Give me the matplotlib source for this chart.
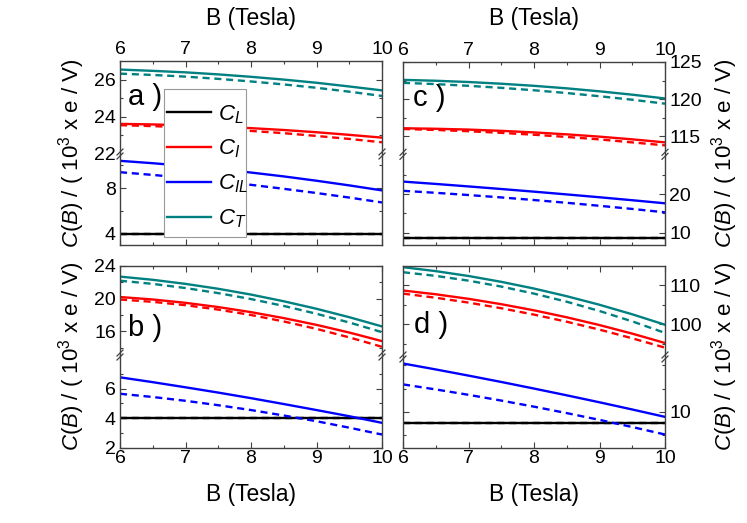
import matplotlib
matplotlib.use("Agg")
import matplotlib.pyplot as plt
from matplotlib.ticker import FixedLocator
from matplotlib.lines import Line2D
from matplotlib.patches import Rectangle

plt.rcParams['font.family'] = ['Liberation Sans', 'DejaVu Sans']
plt.rcParams['mathtext.fontset'] = 'custom'
plt.rcParams['mathtext.rm'] = 'Liberation Sans'
plt.rcParams['mathtext.it'] = 'Liberation Sans:italic'

W, H = 747, 523

B = [6.0, 6.5, 7.0, 7.5, 8.0, 8.5, 9.0, 9.5, 10.0]

# panel a
a_CL = 4.0
a_CI = [23.62, 23.59, 23.54, 23.47, 23.39, 23.29, 23.17, 23.03, 22.88]
a_CI_d = [23.55, 23.50, 23.43, 23.35, 23.24, 23.12, 22.97, 22.81, 22.63]
a_CIL = [10.40, 10.19, 9.95, 9.68, 9.37, 9.03, 8.65, 8.24, 7.80]
a_CIL_d = [9.40, 9.16, 8.90, 8.61, 8.29, 7.94, 7.57, 7.17, 6.74]
a_CT = [26.54, 26.47, 26.39, 26.28, 26.15, 26.00, 25.83, 25.63, 25.42]
a_CT_d = [26.32, 26.25, 26.16, 26.04, 25.90, 25.74, 25.56, 25.35, 25.12]

# panel b
b_CL = 4.0
b_CI = [20.20, 19.90, 19.49, 18.97, 18.35, 17.62, 16.79, 15.85, 14.80]
b_CI_d = [19.90, 19.61, 19.20, 18.66, 18.00, 17.21, 16.30, 15.26, 14.10]
b_CIL = [6.78, 6.45, 6.10, 5.74, 5.36, 4.96, 4.55, 4.13, 3.68]
b_CIL_d = [5.66, 5.44, 5.18, 4.88, 4.55, 4.18, 3.79, 3.35, 2.88]
b_CT = [22.70, 22.31, 21.81, 21.21, 20.50, 19.68, 18.76, 17.73, 16.60]
b_CT_d = [22.20, 21.81, 21.30, 20.68, 19.95, 19.11, 18.15, 17.08, 15.90]

# panel c
c_CL = 8.5
c_CI = [116.10, 116.03, 115.92, 115.75, 115.54, 115.28, 114.97, 114.61, 114.20]
c_CI_d = [116.00, 115.87, 115.70, 115.48, 115.23, 114.93, 114.60, 114.20, 113.80]
c_CIL = [23.30, 22.69, 22.04, 21.37, 20.68, 19.96, 19.22, 18.45, 17.65]
c_CIL_d = [20.90, 20.38, 19.80, 19.18, 18.50, 17.78, 17.00, 16.18, 15.30]
c_CT = [122.60, 122.48, 122.31, 122.08, 121.80, 121.46, 121.06, 120.61, 120.10]
c_CT_d = [122.20, 122.03, 121.80, 121.53, 121.20, 120.83, 120.40, 119.93, 119.40]

# panel d
d_CL = 7.6
d_CI = [108.70, 107.73, 106.56, 105.18, 103.60, 101.81, 99.81, 97.61, 95.20]
d_CI_d = [107.90, 106.84, 105.59, 104.14, 102.50, 100.67, 98.64, 96.41, 94.00]
d_CIL = [20.40, 19.12, 17.79, 16.42, 15.00, 13.54, 12.04, 10.49, 8.90]
d_CIL_d = [15.90, 14.81, 13.65, 12.41, 11.10, 9.71, 8.25, 6.71, 5.10]
d_CT = [114.70, 113.68, 112.43, 110.93, 109.20, 107.23, 105.03, 102.58, 99.90]
d_CT_d = [113.40, 112.46, 111.23, 109.71, 107.90, 105.81, 103.43, 100.76, 97.80]

TEAL = '#008080'
SPINE = '#404040'
TICK_FS = 14
XLAB_FS = 16.5
YLAB_FS = 16

fig = plt.figure(figsize=(W / 100, H / 100), dpi=100)


def fx(px):
    return px / W


def fy(px):
    return 1 - px / H


def panel(left, right, top, brk, bot, hi_lim, lo_lim, hi_ticks, lo_ticks,
          side, xside, tag, tag_xy, curves):
    up = fig.add_axes([fx(left), fy(brk), fx(right - left), fy(top) - fy(brk)])
    lo = fig.add_axes([fx(left), fy(bot), fx(right - left), fy(brk) - fy(bot)])
    for ax in (up, lo):
        for vals, color, ls in curves:
            if isinstance(vals, float):
                vals = [vals] * len(B)
            ax.plot(B, vals, color=color, lw=1.7,
                    dashes=(3, 2) if ls == '--' else (None, None))
        ax.set_xlim(6, 10)
        ax.xaxis.set_major_locator(FixedLocator([6, 7, 8, 9, 10]))
        ax.xaxis.set_minor_locator(FixedLocator([6.5, 7.5, 8.5, 9.5]))
        for s in ax.spines.values():
            s.set_color(SPINE)
            s.set_linewidth(1.0)
        ax.tick_params(which='both', direction='in', colors=SPINE,
                       labelcolor='black', labelsize=TICK_FS)
        ax.tick_params(which='major', length=4.5, width=0.8)
        ax.tick_params(which='minor', length=2.5, width=0.8)
        ax.tick_params(axis='y', which='both', left=True, right=True,
                       labelleft=(side == 'left'), labelright=(side == 'right'),
                       pad=3)
    up.set_ylim(*hi_lim)
    lo.set_ylim(*lo_lim)
    up.yaxis.set_major_locator(FixedLocator(hi_ticks[0]))
    up.yaxis.set_minor_locator(FixedLocator(hi_ticks[1]))
    lo.yaxis.set_major_locator(FixedLocator(lo_ticks[0]))
    lo.yaxis.set_minor_locator(FixedLocator(lo_ticks[1]))
    up.spines['bottom'].set_visible(False)
    lo.spines['top'].set_visible(False)
    up.tick_params(axis='x', which='both', top=True, bottom=False,
                   labeltop=(xside == 'top'), labelbottom=False, pad=2)
    lo.tick_params(axis='x', which='both', top=False, bottom=True,
                   labelbottom=(xside == 'bottom'), labeltop=False, pad=2)

    # break marks on both sides
    for xx in (0, 1):
        xc = left + xx * (right - left)
        for off in (-2.0, 2.0):
            fig.add_artist(Line2D([fx(xc - 3), fx(xc + 3)],
                                  [fy(brk + off + 3), fy(brk + off - 3)],
                                  color=SPINE, lw=0.9))

    cx = fx((left + right) / 2)
    if xside == 'top':
        fig.text(cx, fy(18), 'B (Tesla)', ha='center', va='center', fontsize=XLAB_FS)
    else:
        fig.text(cx, fy(494), 'B (Tesla)', ha='center', va='center', fontsize=XLAB_FS)
    ylab = r'$C(B)$ / ( 10$^3$ x e / V)'
    cy = fy((top + bot) / 2)
    if side == 'left':
        fig.text(fx(72), cy, ylab, rotation=90, ha='center', va='center', fontsize=YLAB_FS)
    else:
        fig.text(fx(725), cy, ylab, rotation=90, ha='center', va='center', fontsize=YLAB_FS)
    fig.text(fx(tag_xy[0]), fy(tag_xy[1]), tag, ha='left', va='center', fontsize=21)
    return up, lo


def curves(CL, CI, CI_d, CIL, CIL_d, CT, CT_d):
    return [(CL, 'black', '-'), (CL, 'black', '--'),
            (CI, 'red', '-'), (CI_d, 'red', '--'),
            (CIL, 'blue', '-'), (CIL_d, 'blue', '--'),
            (CT, TEAL, '-'), (CT_d, TEAL, '--')]


panel(120, 382, 61, 154, 245, (22, 27), (3, 11),
      ([22, 24, 26], [23, 25]), ([4, 8], [6, 10]), 'left', 'top',
      'a )', (128, 97), curves(a_CL, a_CI, a_CI_d, a_CIL, a_CIL_d, a_CT, a_CT_d))
panel(403, 665, 62, 154.3, 245, (112.6, 125), (6.8, 30.4),
      ([115, 120, 125], [117.5, 122.5]), ([10, 20], [15, 25]), 'right', 'top',
      'c )', (413, 98), curves(c_CL, c_CI, c_CI_d, c_CIL, c_CIL_d, c_CT, c_CT_d))
panel(120, 382, 266, 355, 447.5, (13.1, 24), (2, 8.3),
      ([16, 20, 24], [14, 18, 22]), ([2, 4, 6], [3, 5, 7]), 'left', 'bottom',
      'b )', (128, 328), curves(b_CL, b_CI, b_CI_d, b_CIL, b_CIL_d, b_CT, b_CT_d))
panel(403, 665, 266, 357, 447.5, (91.6, 115), (2.3, 21.8),
      ([100, 110], [95, 105]), ([10], [5, 15, 20]), 'right', 'bottom',
      'd )', (414, 325), curves(d_CL, d_CI, d_CI_d, d_CIL, d_CIL_d, d_CT, d_CT_d))

# legend box drawn separately so its padding can match the original
fig.add_artist(Rectangle((fx(164), fy(237)), fx(246 - 164), fy(89) - fy(237),
                         transform=fig.transFigure, facecolor='white',
                         edgecolor='#999999', lw=0.8, zorder=4))
handles = [Line2D([], [], color=c, lw=1.7) for c in ('black', 'red', 'blue', TEAL)]
labels = [r'$C_L$', r'$C_I$', r'$C_{IL}$', r'$C_T$']
leg = fig.legend(handles, labels, loc='upper left', bbox_to_anchor=(fx(167), fy(103)),
                 borderaxespad=0, borderpad=0, fontsize=16, handlelength=2.0,
                 handletextpad=0.3, labelspacing=0.55, frameon=False)
leg.set_zorder(5)

fig.savefig('out.png', dpi=100)
